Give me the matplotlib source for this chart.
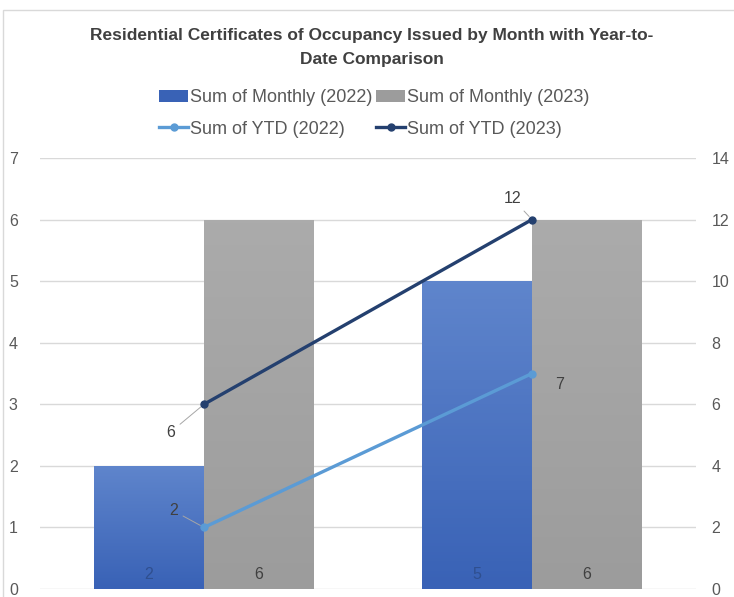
import numpy as np
import matplotlib
matplotlib.use("Agg")
import matplotlib.pyplot as plt
from matplotlib.patches import Rectangle

plt.rcParams['font.family'] = ['Liberation Sans', 'DejaVu Sans']

categories = ['Month 1', 'Month 2']
monthly_2022 = [2, 5]
monthly_2023 = [6, 6]
ytd_2022 = [2, 7]
ytd_2023 = [6, 12]

blue_top, blue_bot = '#5F85CC', '#3962B6'
gray_top, gray_bot = '#ABABAB', '#9C9C9C'
c_ytd22 = '#5B9BD5'
c_ytd23 = '#24406F'
txt = '#595959'

fig = plt.figure(figsize=(7.34, 5.97), dpi=100)
ax = fig.add_axes([40/734, 8/597, 656/734, 431/597])
ax2 = ax.twinx()

x = np.arange(len(categories))
w = 0.335


def grad_bars(ax, xs, vals, ctop, cbot, label):
    bars = ax.bar(xs, vals, width=w, color=cbot, label=label, zorder=2)
    cmap = matplotlib.colors.LinearSegmentedColormap.from_list('g', [cbot, ctop])
    for b in bars:
        x0, y0 = b.get_x(), b.get_y()
        x1, y1 = x0 + b.get_width(), y0 + b.get_height()
        im = ax.imshow(np.linspace(0, 1, 100).reshape(-1, 1), cmap=cmap, aspect='auto',
                       extent=[x0, x1, y0, y1], origin='lower', zorder=2.1)
        im.set_clip_path(b)
    return bars


b22 = grad_bars(ax, x - w/2, monthly_2022, blue_top, blue_bot, 'Sum of Monthly (2022)')
b23 = grad_bars(ax, x + w/2, monthly_2023, gray_top, gray_bot, 'Sum of Monthly (2023)')

for xs, vals, col in [(x - w/2, monthly_2022, '#2F4F8F'), (x + w/2, monthly_2023, '#404040')]:
    for xi, v in zip(xs, vals):
        ax.annotate(str(v), (xi, 0), xytext=(0, 5), textcoords='offset points',
                    ha='center', va='bottom', fontsize=11.5, color=col, zorder=5)

ax.set_xlim(-0.5, 1.5)
ax.set_ylim(0, 7)
ax.set_yticks(range(0, 8))
ax.yaxis.grid(True, color='#D9D9D9', linewidth=1)
ax.set_axisbelow(True)
ax.set_xticks([])
for s in ax.spines.values():
    s.set_visible(False)
ax.tick_params(axis='y', length=0, pad=16, labelsize=11.5, labelcolor=txt)

l22, = ax2.plot(x, ytd_2022, color=c_ytd22, lw=2.4, marker='o', ms=5, label='Sum of YTD (2022)', zorder=4)
l23, = ax2.plot(x, ytd_2023, color=c_ytd23, lw=2.4, marker='o', ms=5, label='Sum of YTD (2023)', zorder=4)
ax2.set_ylim(0, 14)
ax2.set_yticks(range(0, 15, 2))
for s in ax2.spines.values():
    s.set_visible(False)
ax2.tick_params(axis='y', length=0, pad=11, labelsize=11.5, labelcolor=txt)

# data labels for the YTD lines with short leader lines
lead = dict(arrowstyle='-', color='#A6A6A6', lw=0.7, shrinkA=2, shrinkB=3)
ax2.annotate(str(ytd_2022[0]), (x[0], ytd_2022[0]), xytext=(-22, 12), textcoords='offset points',
             ha='center', va='center', fontsize=11.5, color='#404040', arrowprops=lead)
ax2.annotate(str(ytd_2022[1]), (x[1], ytd_2022[1]), xytext=(20, -8), textcoords='offset points',
             ha='center', va='center', fontsize=11.5, color='#404040')
ax2.annotate(str(ytd_2023[0]), (x[0], ytd_2023[0]), xytext=(-24, -20), textcoords='offset points',
             ha='center', va='center', fontsize=11.5, color='#404040', arrowprops=lead)
ax2.annotate(str(ytd_2023[1]), (x[1], ytd_2023[1]), xytext=(-14, 15), textcoords='offset points',
             ha='center', va='center', fontsize=11.5, color='#404040', arrowprops=lead)

fig.text(0.507, 0.920, 'Residential Certificates of Occupancy Issued by Month with Year-to-\nDate Comparison',
         ha='center', va='center', fontsize=12.5, fontweight='bold', color='#404040', linespacing=1.75)

fig.legend([b22, l22, b23, l23],
           ['Sum of Monthly (2022)', 'Sum of YTD (2022)', 'Sum of Monthly (2023)', 'Sum of YTD (2023)'],
           loc='center', bbox_to_anchor=(0.51, 0.810), ncol=2, frameon=False, fontsize=13,
           labelcolor=txt, handlelength=1.6, handletextpad=0.1, columnspacing=0.2,
           labelspacing=0.8, borderpad=0)

fig.patches.append(Rectangle((3/734, -0.1), 1.2, 1.1 - 10/597, transform=fig.transFigure,
                             fill=False, edgecolor='#D9D9D9', lw=1))

fig.savefig('out.png', dpi=100)
